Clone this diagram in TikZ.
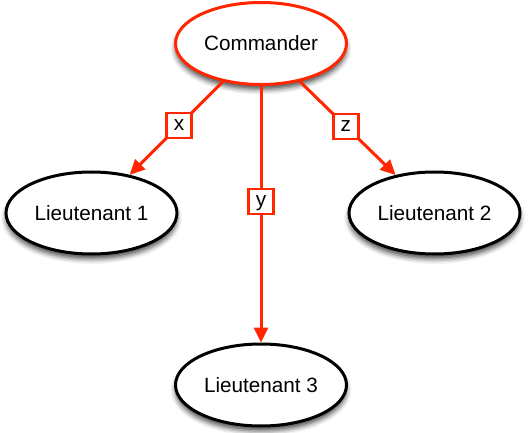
\documentclass[tikz,border=0pt]{standalone}
\usepackage{fontspec}
\setmainfont{Liberation Sans}
\usetikzlibrary{shapes.geometric,arrows.meta,shadows.blur}
\definecolor{cmdred}{RGB}{255,38,0}
\tikzset{
  person/.style={ellipse, draw=black, line width=3pt, fill=white,
    minimum width=171pt, minimum height=82pt, inner sep=0pt,
    font=\fontsize{20.7}{24}\selectfont,
    blur shadow={shadow xshift=0pt, shadow yshift=-5pt,
      shadow blur radius=5pt, shadow opacity=70}},
  chief/.style={person, draw=cmdred},
  order/.style={draw=cmdred, line width=3pt,
    -{Triangle[length=15pt,width=14pt]}},
  msg/.style={draw=cmdred, line width=2.5pt, fill=white,
    minimum width=25pt, minimum height=25pt, inner sep=0pt,
    font=\fontsize{20.7}{24}\selectfont, text height=10.5pt, text depth=0pt}
}
\begin{document}
\begin{tikzpicture}[x=1pt,y=-1pt]
  \useasboundingbox (0,0) rectangle (528,433);
  \node[chief]  (cmd) at (261,43.5)  {Commander};
  \node[person] (l1)  at (91.5,213)  {Lieutenant 1};
  \node[person] (l2)  at (434.5,213) {Lieutenant 2};
  \node[person] (l3)  at (261,385)   {Lieutenant 3};
  \draw[order] (cmd) -- node[msg, pos=0.47] {x} (l1);
  \draw[order] (cmd) -- node[msg, pos=0.48] {z} (l2);
  \draw[order] (cmd) -- node[msg, pos=0.45] {y} (l3);
\end{tikzpicture}
\end{document}
